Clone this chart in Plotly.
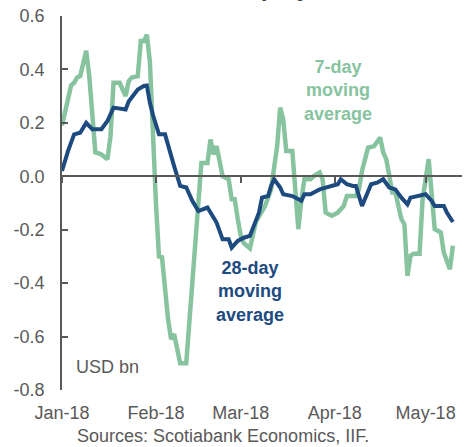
import plotly.graph_objects as go

# 7-day moving average (green)
green_dates = ["2018-01-01","2018-01-04","2018-01-05","2018-01-06","2018-01-07","2018-01-09","2018-01-10",
               "2018-01-11","2018-01-12","2018-01-14","2018-01-16","2018-01-17","2018-01-18","2018-01-20",
               "2018-01-22","2018-01-23","2018-01-24","2018-01-26","2018-01-27","2018-01-28","2018-01-29",
               "2018-01-30","2018-01-31","2018-02-01","2018-02-02","2018-02-03","2018-02-05","2018-02-06",
               "2018-02-07","2018-02-08","2018-02-09","2018-02-11","2018-02-13","2018-02-14","2018-02-16",
               "2018-02-18","2018-02-19","2018-02-20","2018-02-21","2018-02-23","2018-02-25","2018-02-26",
               "2018-02-27","2018-02-28","2018-03-01","2018-03-02","2018-03-04","2018-03-05","2018-03-06",
               "2018-03-09","2018-03-11","2018-03-13","2018-03-14","2018-03-15","2018-03-16","2018-03-18",
               "2018-03-19","2018-03-20","2018-03-21","2018-03-22","2018-03-24","2018-03-25","2018-03-27",
               "2018-03-28","2018-03-29","2018-03-31","2018-04-02","2018-04-04","2018-04-05","2018-04-08",
               "2018-04-09","2018-04-10","2018-04-12","2018-04-14","2018-04-16","2018-04-17","2018-04-18",
               "2018-04-19","2018-04-20","2018-04-21","2018-04-23","2018-04-24","2018-04-25","2018-04-26",
               "2018-04-27","2018-04-29","2018-04-30","2018-05-02","2018-05-03","2018-05-04","2018-05-05",
               "2018-05-06","2018-05-07","2018-05-09","2018-05-10"]
green_vals = [0.19,0.34,0.35,0.37,0.375,0.47,0.375,
              0.24,0.09,0.082,0.064,0.15,0.35,0.35,
              0.30,0.356,0.37,0.375,0.506,0.506,0.53,
              0.43,0.15,-0.10,-0.30,-0.303,-0.535,-0.61,
              -0.59,-0.65,-0.70,-0.70,-0.41,-0.22,0.05,
              0.05,0.138,0.082,0.113,0.0,-0.011,-0.086,
              -0.086,-0.16,-0.223,-0.25,-0.27,-0.22,-0.17,
              -0.111,-0.049,0.113,0.257,0.213,0.095,0.095,
              -0.074,-0.198,-0.086,-0.011,-0.011,0.0,0.014,
              -0.011,-0.136,-0.148,-0.136,-0.111,-0.074,-0.074,
              -0.049,0.02,0.107,0.113,0.145,0.089,0.064,
              0.0,-0.061,-0.061,-0.16,-0.18,-0.373,-0.298,
              -0.29,-0.29,-0.086,0.064,-0.061,-0.198,-0.204,
              -0.21,-0.285,-0.348,-0.26]

# 28-day moving average (blue)
blue_dates = ["2018-01-01","2018-01-03","2018-01-05","2018-01-07","2018-01-09","2018-01-11","2018-01-14",
              "2018-01-16","2018-01-18","2018-01-22","2018-01-23","2018-01-26","2018-01-28","2018-01-29",
              "2018-01-30","2018-01-31","2018-02-02","2018-02-04","2018-02-07","2018-02-09","2018-02-11",
              "2018-02-13","2018-02-15","2018-02-18","2018-02-21","2018-02-23","2018-02-25","2018-02-26",
              "2018-02-28","2018-03-02","2018-03-04","2018-03-06","2018-03-07","2018-03-08","2018-03-10",
              "2018-03-11","2018-03-12","2018-03-14","2018-03-15","2018-03-18","2018-03-21","2018-03-22",
              "2018-03-24","2018-03-27","2018-03-29","2018-03-31","2018-04-02","2018-04-03","2018-04-05",
              "2018-04-07","2018-04-08","2018-04-10","2018-04-12","2018-04-13","2018-04-15","2018-04-17",
              "2018-04-19","2018-04-21","2018-04-23","2018-04-25","2018-04-26","2018-04-29","2018-05-01",
              "2018-05-03","2018-05-04","2018-05-07","2018-05-08","2018-05-10"]
blue_vals = [0.02,0.095,0.157,0.163,0.20,0.176,0.176,
             0.207,0.257,0.25,0.28,0.325,0.338,0.34,
             0.275,0.23,0.157,0.157,0.038,-0.036,-0.042,
             -0.092,-0.13,-0.117,-0.173,-0.236,-0.236,-0.267,
             -0.242,-0.23,-0.223,-0.16,-0.136,-0.08,-0.074,
             -0.036,-0.011,-0.042,-0.067,-0.074,-0.092,-0.067,
             -0.067,-0.049,-0.042,-0.036,-0.03,-0.011,-0.03,
             -0.036,-0.036,-0.111,-0.055,-0.03,-0.024,-0.011,
             -0.042,-0.049,-0.08,-0.105,-0.08,-0.074,-0.067,
             -0.092,-0.111,-0.111,-0.136,-0.171]

x_tick_vals = ["2018-01-01","2018-02-01","2018-03-01","2018-04-01","2018-05-01"]
x_tick_text = ["Jan-18","Feb-18","Mar-18","Apr-18","May-18"]
y_tick_vals = [0.6,0.4,0.2,0.0,-0.2,-0.4,-0.6,-0.8]
y_tick_text = ["0.6","0.4","0.2","0.0","-0.2","-0.4","-0.6","-0.8"]

GREEN = "#88C3A0"
BLUE = "#1D4A7F"
GRAY = "#595959"
FONT = "Liberation Sans, Arial, sans-serif"
x_range = ["2018-01-01", "2018-05-13"]
y_range = [-0.8, 0.6]
zero_pos = (0 - y_range[0]) / (y_range[1] - y_range[0])

fig = go.Figure()
fig.add_trace(go.Scatter(x=green_dates, y=green_vals, mode="lines",
                         line=dict(color=GREEN, width=4.5), name="7-day moving average"))
fig.add_trace(go.Scatter(x=blue_dates, y=blue_vals, mode="lines",
                         line=dict(color=BLUE, width=4), name="28-day moving average"))
fig.add_trace(go.Scatter(x=[x_range[0]], y=[None], xaxis="x2", yaxis="y",
                         mode="lines", showlegend=False, hoverinfo="skip"))

fig.update_layout(
    width=470, height=447,
    margin=dict(l=62, r=8, t=16, b=57, autoexpand=False),
    paper_bgcolor="white", plot_bgcolor="white",
    showlegend=False,
    font=dict(family=FONT, size=18, color=GRAY),
    xaxis=dict(range=x_range, type="date", anchor="free", position=zero_pos,
               showline=True, linecolor=GRAY, linewidth=1.5,
               ticks="outside", ticklen=6, tickwidth=1.5, tickcolor=GRAY,
               tickvals=x_tick_vals, showticklabels=False, showgrid=False, zeroline=False,
               automargin=False),
    xaxis2=dict(range=x_range, type="date", overlaying="x", anchor="y", side="bottom",
                showline=False, ticks="outside", ticklen=6, tickcolor="rgba(0,0,0,0)",
                tickvals=x_tick_vals, ticktext=x_tick_text, showgrid=False, zeroline=False,
                tickfont=dict(size=18, color=GRAY), automargin=False),
    yaxis=dict(range=y_range, showline=True, linecolor=GRAY, linewidth=1.5,
               ticks="inside", ticklen=6, tickwidth=1.5, tickcolor=GRAY,
               tickvals=y_tick_vals, ticktext=y_tick_text, ticklabelstandoff=12,
               showgrid=False, zeroline=False, tickfont=dict(size=18, color=GRAY),
               automargin=False),
)

fig.add_annotation(text="<b>7-day<br>moving<br>average</b>", xref="x", yref="paper",
                   x="2018-04-02", y=1 - (55 - 16) / 374, yanchor="top", showarrow=False,
                   font=dict(size=18, color=GREEN, family=FONT), align="center")
fig.add_annotation(text="<b>28-day<br>moving<br>average</b>", xref="x", yref="paper",
                   x="2018-03-04", y=1 - (256 - 16) / 374, yanchor="top", showarrow=False,
                   font=dict(size=18, color=BLUE, family=FONT), align="center")
fig.add_annotation(text="USD bn", xref="paper", yref="paper",
                   x=(74 - 62) / 400, y=1 - (367 - 16) / 374, xanchor="left", yanchor="middle",
                   showarrow=False, font=dict(size=18, color=GRAY, family=FONT))
fig.add_annotation(text="Sources: Scotiabank Economics, IIF.", xref="paper", yref="paper",
                   x=(223 - 62) / 400, y=1 - (436 - 16) / 374, xanchor="center", yanchor="middle",
                   showarrow=False, font=dict(size=18, color=GRAY, family=FONT))
fig.add_annotation(text="<b>EM Equity Flows</b>", xref="paper", yref="paper",
                   x=(192 - 62) / 400, y=1 + (16 - 3) / 374, xanchor="left", yanchor="bottom",
                   showarrow=False, font=dict(size=24, color="#404040", family=FONT))

fig.write_html("out.html", config={"displayModeBar": False})

# remove the default page margin so the figure sits at the window's top-left corner
with open("out.html", "r", encoding="utf-8") as f:
    html = f.read()
html = html.replace("<body>", '<body style="margin:0;overflow:hidden">', 1)
with open("out.html", "w", encoding="utf-8") as f:
    f.write(html)
